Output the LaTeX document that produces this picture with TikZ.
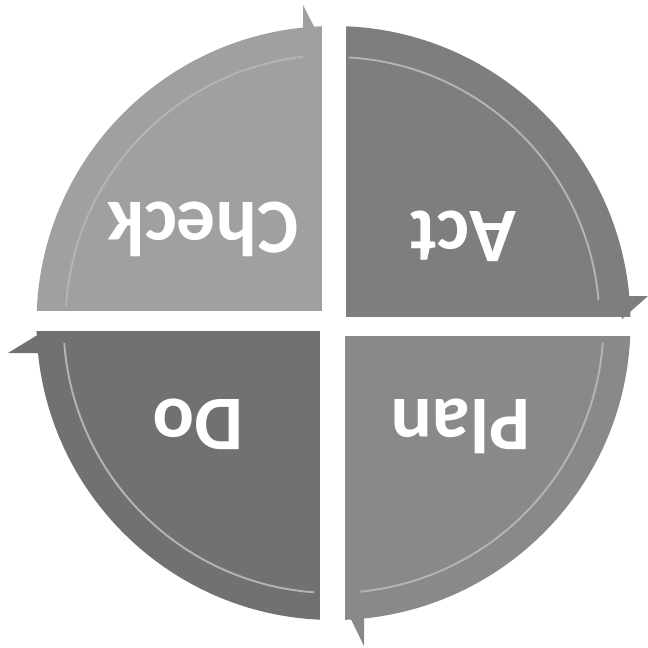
\documentclass[tikz,border=0pt]{standalone}
\usepackage{fontspec}
\setmainfont{Carlito}
\definecolor{checkc}{HTML}{A0A0A2}
\definecolor{actc}{HTML}{7E7E81}
\definecolor{planc}{HTML}{89898C}
\definecolor{doc}{HTML}{717174}
\definecolor{hilite}{HTML}{B4B4B6}
\tikzset{
  lbl/.style={text=white, font=\fontsize{22}{26}\selectfont\bfseries, rotate=180, inner sep=0pt},
  hl/.style={draw=hilite, line width=0.55pt}
}
\begin{document}
\begin{tikzpicture}[x=0.01cm,y=-0.01cm]
\useasboundingbox (0,0) rectangle (648,647);
\fill[white] (0,0) rectangle (648,647);
\coordinate (C) at (333.5,323);
% wedges
\begin{scope}
  \clip (C) circle[radius=297];
  \fill[checkc] (0,0) rectangle (322,311);
  \fill[actc] (346,0) rectangle (648,317);
  \fill[planc] (345,336) rectangle (648,647);
  \fill[doc] (0,331) rectangle (320,647);
\end{scope}
% arrow barbs
\fill[checkc] (303,5) -- (322,42) -- (303,40) -- cycle;
\fill[actc] (648,296) -- (622,319) -- (618,296) -- cycle;
\fill[planc] (364,646) -- (345,607) -- (364,605) -- cycle;
\fill[doc] (8,353) -- (44,331) -- (48,353) -- cycle;
% highlight arcs
\draw[hl] (C) ++(183.6:268) arc[start angle=183.6, end angle=263.5, radius=268];
\draw[hl] (C) ++(273.3:266) arc[start angle=273.3, end angle=355.1, radius=266];
\draw[hl] (C) ++(4.2:270) arc[start angle=4.2, end angle=84.3, radius=270];
\draw[hl] (C) ++(94.1:270) arc[start angle=94.1, end angle=175.8, radius=270];
% labels
\node[lbl] (check) at (203,229) {Check};
\node[lbl] (act) at (463,236) {Act};
\node[lbl] (plan) at (461,426) {Plan};
\node[lbl] (do) at (198,424) {Do};
\end{tikzpicture}
\end{document}
